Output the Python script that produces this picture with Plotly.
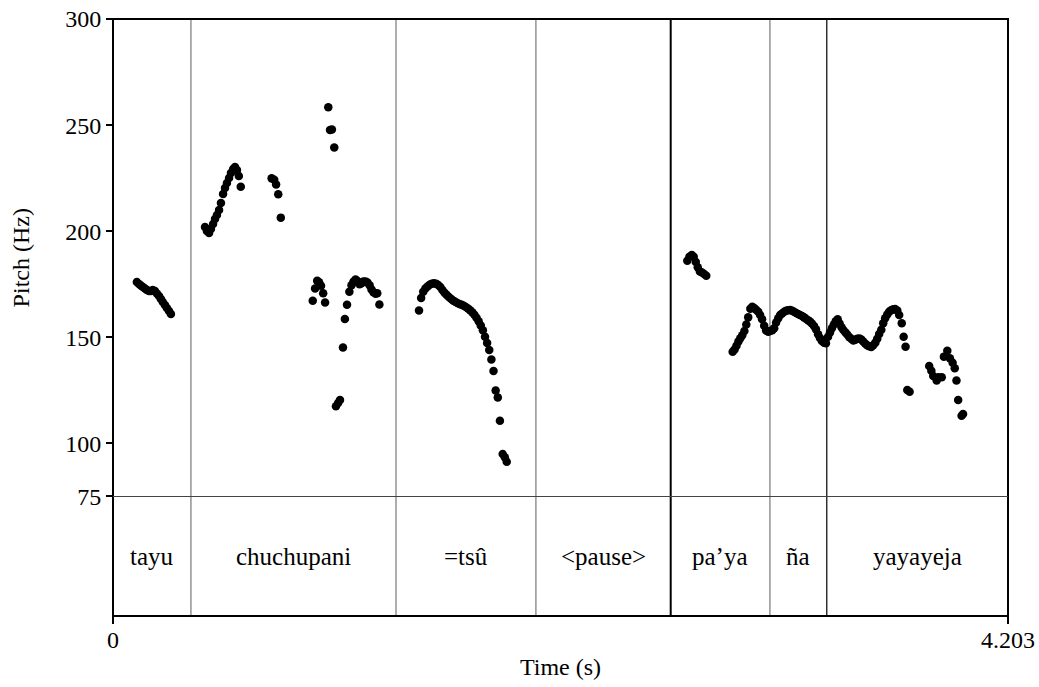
import plotly.graph_objects as go

# ---- pitch track (time in s, F0 in Hz), grouped by word ----
t_tayu = [0.112, 0.122, 0.131, 0.140, 0.150, 0.159, 0.169, 0.178, 0.187,
          0.197, 0.206, 0.216, 0.225, 0.234, 0.244, 0.253, 0.263, 0.272]
f_tayu = [176.1, 175.1, 174.4, 173.7, 173.0, 172.3, 171.8, 171.8, 172.3,
          171.8, 170.7, 169.5, 168.1, 166.6, 165.2, 163.8, 162.4, 161.0]

t_chuchupani = [0.432, 0.441, 0.451, 0.460, 0.470, 0.479, 0.488, 0.498, 0.507,
                0.517, 0.526, 0.535, 0.545, 0.554, 0.564, 0.573, 0.582, 0.591,
                0.600,
                0.745, 0.757, 0.766, 0.776, 0.788,
                0.938, 0.949, 0.959, 0.968, 0.977, 0.987, 0.996,
                1.011, 1.019, 1.028, 1.039,
                1.047, 1.057, 1.066, 1.080, 1.089, 1.099, 1.110, 1.120, 1.129,
                1.139, 1.148, 1.158, 1.167, 1.176, 1.186, 1.195, 1.205, 1.214,
                1.223, 1.233, 1.241, 1.251]
f_chuchupani = [202.0, 200.1, 199.2, 201.0, 203.4, 205.8, 207.6, 210.0, 213.3,
                217.5, 220.4, 222.7, 225.1, 227.4, 229.3, 230.3, 228.8, 226.0,
                221.0,
                224.9, 224.3, 222.0, 217.4, 206.4,
                167.2, 173.0, 176.6, 175.9, 174.3, 170.8, 166.4,
                258.4, 247.7, 247.9, 239.5,
                117.5, 119.0, 120.5, 145.2, 158.6, 165.4, 171.5, 174.5, 176.2,
                177.3, 176.5, 175.0, 175.5, 176.3, 176.3, 175.8, 174.5, 172.5,
                171.2, 170.5, 170.8, 165.5]

t_tsu = [1.437, 1.447, 1.457, 1.467, 1.477, 1.487, 1.497, 1.507, 1.517, 1.527,
         1.537, 1.547, 1.557, 1.567, 1.577, 1.587, 1.597, 1.607, 1.617, 1.627,
         1.637, 1.647, 1.657, 1.667, 1.677, 1.687, 1.697, 1.707, 1.717, 1.727,
         1.737, 1.747, 1.757, 1.767, 1.777, 1.787, 1.797, 1.807, 1.817, 1.830,
         1.840, 1.849]
f_tsu = [162.6, 168.5, 171.5, 173.0, 174.0, 174.8, 175.3, 175.5, 175.3, 174.7,
         173.7, 172.3, 171.0, 170.0, 169.0, 168.2, 167.4, 166.8, 166.2, 165.7,
         165.3, 164.9, 164.3, 163.6, 162.8, 161.8, 160.6, 159.2, 157.6, 155.6,
         153.3, 150.3, 147.3, 144.0, 139.5, 134.1, 124.9, 121.7, 110.7, 95.0,
         93.5, 91.4]

t_paya = [2.697, 2.707, 2.718, 2.727, 2.737, 2.746, 2.756, 2.766, 2.776, 2.786,
          2.910, 2.919, 2.928, 2.937, 2.946, 2.955, 2.965, 2.974, 2.983, 2.993,
          3.002, 3.011, 3.020, 3.030, 3.039, 3.048, 3.058, 3.067, 3.077]
f_paya = [186.1, 188.0, 188.8, 188.0, 185.5, 183.0, 181.0, 180.5, 179.8, 179.0,
          143.2, 144.3, 146.0, 148.0, 149.6, 151.0, 153.0, 156.0, 159.4, 163.5,
          164.4, 163.8, 163.0, 162.0, 160.5, 158.5, 155.5, 153.2, 152.6]

t_na = [3.086, 3.096, 3.105, 3.114, 3.124, 3.133, 3.142, 3.152, 3.161, 3.170,
        3.180, 3.189, 3.198, 3.208, 3.217, 3.226, 3.236, 3.245, 3.254, 3.264,
        3.273, 3.282, 3.292, 3.301, 3.311, 3.320, 3.329, 3.339, 3.348]
f_na = [153.0, 153.3, 154.3, 157.0, 159.0, 160.5, 161.2, 162.0, 162.5, 162.8,
        162.9, 162.5, 162.1, 161.5, 161.0, 160.5, 160.0, 159.4, 158.8, 158.0,
        157.4, 156.5, 155.3, 153.8, 151.5, 149.7, 148.3, 147.4, 147.2]

t_yayayeja = [3.358, 3.367, 3.376, 3.385, 3.394, 3.403, 3.412, 3.421, 3.430,
              3.440, 3.449, 3.458, 3.468, 3.477, 3.486, 3.495, 3.505, 3.514,
              3.523, 3.533, 3.542, 3.551, 3.561, 3.570, 3.580, 3.589, 3.598,
              3.608, 3.617, 3.626, 3.636, 3.645, 3.654, 3.664, 3.673, 3.683,
              3.692, 3.704, 3.713, 3.722, 3.730, 3.741,
              3.833, 3.843, 3.852, 3.868, 3.876, 3.892, 3.902, 3.918, 3.930,
              3.943, 3.953, 3.961, 3.969, 3.985, 3.992]
f_yayayeja = [150.3, 152.3, 154.3, 156.0, 157.6, 158.5, 156.5, 154.7, 153.4,
              152.3, 151.2, 150.0, 149.2, 148.5, 148.9, 149.3, 149.5, 149.0,
              148.0, 147.0, 146.3, 145.8, 145.4, 146.3, 147.5, 149.3, 151.6,
              153.6, 156.6, 159.0, 160.8, 162.0, 162.8, 163.2, 163.3, 162.6,
              160.5, 156.6, 150.3, 145.6, 125.2, 124.3,
              136.5, 134.3, 131.8, 129.6, 131.2, 131.2, 140.9, 143.7, 140.1,
              138.0, 135.4, 129.6, 120.5, 113.0, 113.9]

# ---- word tier ----
tier_labels = ["tayu", "chuchupani", "=tsû", "<pause>", "pa’ya", "ña", "yayayeja"]
tier_bounds = [0.0, 0.366, 1.329, 1.986, 2.619, 3.085, 3.352, 4.203]
bound_colors = ["#777777", "#777777", "#777777", "#000000", "#777777", "#000000"]
bound_widths = [1.2, 1.2, 1.2, 2, 1.2, 1.2]

# ---- axes ----
t_end = 4.203
f_min, f_max = 75, 300
y_ticks = [75, 100, 150, 200, 250, 300]

FONT = "Liberation Serif, Times New Roman, serif"
TIER_FRAC = 0.2002  # share of plot height used by the text tier

times = t_tayu + t_chuchupani + t_tsu + t_paya + t_na + t_yayayeja
pitch = f_tayu + f_chuchupani + f_tsu + f_paya + f_na + f_yayayeja

fig = go.Figure()
fig.add_trace(go.Scatter(
    x=times, y=pitch, mode="markers",
    marker=dict(size=8.5, color="black", line=dict(width=0)),
    hoverinfo="x+y", showlegend=False,
))

shapes = []
# outer frame
shapes.append(dict(type="rect", xref="paper", yref="paper", x0=0, x1=1, y0=0, y1=1,
                   line=dict(color="black", width=2), layer="above"))
# line separating pitch area from tier
shapes.append(dict(type="line", xref="paper", yref="paper", x0=0, x1=1,
                   y0=TIER_FRAC, y1=TIER_FRAC,
                   line=dict(color="#444444", width=1.2), layer="above"))
# interval boundaries
for b, c, w in zip(tier_bounds[1:-1], bound_colors, bound_widths):
    shapes.append(dict(type="line", xref="x", yref="paper", x0=b, x1=b, y0=0, y1=1,
                       line=dict(color=c, width=w), layer="below"))

annotations = []
for lab, a, b in zip(tier_labels, tier_bounds[:-1], tier_bounds[1:]):
    annotations.append(dict(x=(a + b) / 2, y=TIER_FRAC / 2, xref="x", yref="paper",
                            text=lab.replace("<", "&lt;").replace(">", "&gt;"),
                            showarrow=False,
                            font=dict(family=FONT, size=25, color="black"),
                            xanchor="center", yanchor="middle"))

fig.update_layout(
    width=1039, height=687,
    margin=dict(l=113, r=31, t=19, b=71, autoexpand=False),
    paper_bgcolor="white", plot_bgcolor="white",
    font=dict(family=FONT, size=24, color="black"),
    shapes=shapes, annotations=annotations,
    xaxis=dict(range=[0, t_end], domain=[0, 1], anchor="free", position=0,
               automargin=False,
               tickvals=[0, t_end], ticktext=["0", "4.203"],
               ticks="outside", ticklen=7, tickwidth=1.5, tickcolor="black",
               ticklabelstandoff=-5,
               showgrid=False, zeroline=False, showline=False,
               tickfont=dict(family=FONT, size=24, color="black"),
               title=dict(text="Time (s)", standoff=6,
                          font=dict(family=FONT, size=24, color="black"))),
    yaxis=dict(range=[f_min, f_max], domain=[TIER_FRAC, 1], automargin=False,
               tickvals=y_ticks, ticks="outside", ticklen=6, tickwidth=1.5,
               tickcolor="black", showgrid=False, zeroline=False, showline=False,
               tickfont=dict(family=FONT, size=24, color="black"),
               title=dict(text="Pitch (Hz)", standoff=28,
                          font=dict(family=FONT, size=24, color="black"))),
)

fig.write_html("out.html")
